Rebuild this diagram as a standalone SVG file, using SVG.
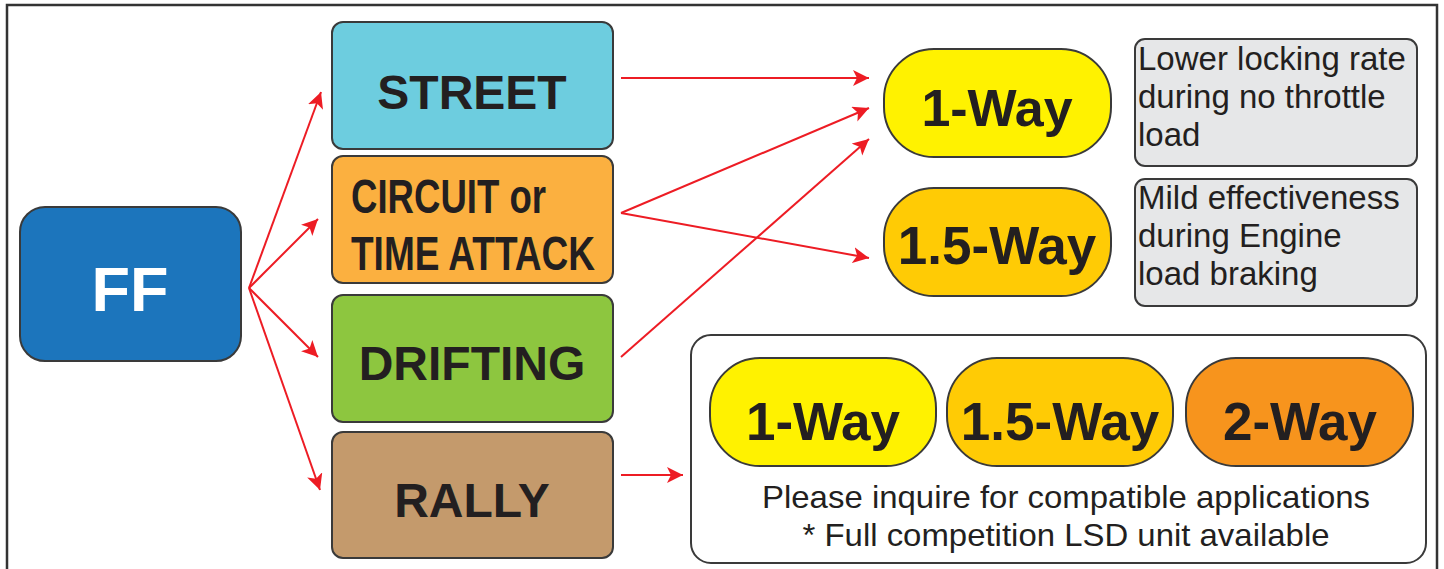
<svg xmlns="http://www.w3.org/2000/svg" width="1444" height="569" viewBox="0 0 1444 569">
<style>
.box{stroke:#3a3a3a;stroke-width:2}
.b{font-family:"Liberation Sans",Arial,sans-serif;font-weight:bold;fill:#231f20;text-anchor:middle}
.r{font-family:"Liberation Sans",Arial,sans-serif;fill:#231f20}
.con line{stroke:#ed1c24;stroke-width:2;marker-end:url(#ah)}
</style>
<defs>
<marker id="ah" markerUnits="userSpaceOnUse" markerWidth="17" markerHeight="17" refX="16" refY="8" orient="auto">
<path d="M0,0 L16,8 L0,16 L4,8 z" fill="#ed1c24"/>
</marker>
</defs>
<rect width="1444" height="569" fill="#ffffff"/>
<rect x="7" y="5" width="1430" height="600" fill="none" stroke="#333333" stroke-width="2.5"/>

<g id="ff"><rect class="box" x="20" y="207" width="221" height="154" rx="25" fill="#1c75bc"/>
<text class="b" x="130" y="311" font-size="63" style="fill:#ffffff">FF</text></g>

<g id="street"><rect class="box" x="332" y="22" width="281" height="127" rx="11" fill="#6dcddf"/>
<text class="b" x="472" y="109" font-size="48">STREET</text></g>

<g id="circuit"><rect class="box" x="332" y="156" width="281" height="127" rx="11" fill="#fbb040"/>
<text class="b" x="351" y="213" font-size="48" style="text-anchor:start" textLength="195" lengthAdjust="spacingAndGlyphs">CIRCUIT or</text>
<text class="b" x="351" y="270" font-size="48" style="text-anchor:start" textLength="244" lengthAdjust="spacingAndGlyphs">TIME ATTACK</text></g>

<g id="drifting"><rect class="box" x="332" y="295" width="281" height="127" rx="11" fill="#8dc63f"/>
<text class="b" x="472" y="380" font-size="48">DRIFTING</text></g>

<g id="rally"><rect class="box" x="332" y="432" width="281" height="126" rx="11" fill="#c49a6c"/>
<text class="b" x="472" y="517" font-size="48">RALLY</text></g>

<g id="oneway"><rect class="box" x="884" y="49" width="227" height="108" rx="50" fill="#fff200"/>
<text class="b" x="997" y="126" font-size="52">1-Way</text></g>

<g id="onefiveway"><rect class="box" x="884" y="188" width="227" height="108" rx="50" fill="#ffcb05"/>
<text class="b" x="997" y="264" font-size="53">1.5-Way</text></g>

<g id="note1"><rect class="box" x="1135" y="39" width="282" height="127" rx="10" fill="#e6e7e8"/>
<text class="r" x="1138" y="70" font-size="33">Lower locking rate</text>
<text class="r" x="1138" y="108" font-size="33">during no throttle</text>
<text class="r" x="1138" y="146" font-size="33">load</text></g>

<g id="note2"><rect class="box" x="1135" y="179" width="282" height="127" rx="10" fill="#e6e7e8"/>
<text class="r" x="1138" y="209" font-size="33">Mild effectiveness</text>
<text class="r" x="1138" y="247" font-size="33">during Engine</text>
<text class="r" x="1138" y="285" font-size="33">load braking</text></g>

<g id="rallybox"><rect class="box" x="691" y="335" width="735" height="228" rx="20" fill="#ffffff"/>
<rect class="box" x="710" y="358" width="226" height="108" rx="50" fill="#fff200"/>
<text class="b" x="823" y="440" font-size="53">1-Way</text>
<rect class="box" x="947" y="358" width="226" height="108" rx="50" fill="#ffcb05"/>
<text class="b" x="1060" y="440" font-size="53">1.5-Way</text>
<rect class="box" x="1186" y="358" width="227" height="108" rx="50" fill="#f7941d"/>
<text class="b" x="1300" y="440" font-size="53">2-Way</text>
<text class="r" x="1066" y="508" font-size="32" text-anchor="middle" textLength="608" lengthAdjust="spacingAndGlyphs">Please inquire for compatible applications</text>
<text class="r" x="1066" y="546" font-size="32" text-anchor="middle" textLength="527" lengthAdjust="spacingAndGlyphs">* Full competition LSD unit available</text></g>

<g id="connectors" class="con">
<line x1="249" y1="288" x2="321" y2="92"/>
<line x1="249" y1="288" x2="318" y2="219"/>
<line x1="249" y1="288" x2="318" y2="357"/>
<line x1="249" y1="288" x2="320" y2="490"/>
<line x1="621" y1="78" x2="869" y2="78"/>
<line x1="621" y1="213" x2="869" y2="108"/>
<line x1="621" y1="213" x2="869" y2="258"/>
<line x1="621" y1="357" x2="869" y2="139"/>
<line x1="621" y1="475" x2="683" y2="475"/>
</g>
</svg>
